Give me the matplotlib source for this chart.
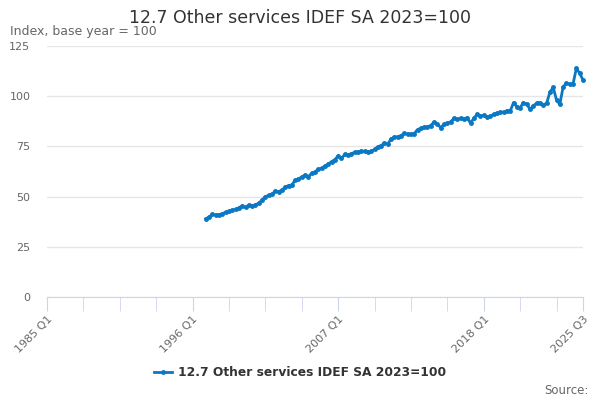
import matplotlib.pyplot as plt

# quarters 1985 Q1 .. 2025 Q3
quarters = [f"{y} Q{q}" for y in range(1985, 2026) for q in range(1, 5)][:163]
start = "1997 Q1"
values = [
    39.0, 39.8, 41.2, 40.8, 41.0, 41.5, 42.2, 42.6, 43.2, 43.6,
    44.4, 45.4, 44.6, 45.8, 45.3, 45.9, 46.7, 48.3, 50.0, 50.6,
    51.2, 52.8, 52.5, 53.2, 54.8, 55.5, 55.8, 58.2, 58.8, 59.8,
    60.8, 60.0, 61.6, 62.3, 63.6, 64.1, 65.2, 66.2, 67.4, 68.4,
    70.3, 69.1, 71.0, 70.6, 71.4, 72.0, 72.3, 72.6, 72.5, 72.4,
    72.6, 73.5, 74.9, 75.4, 76.6, 76.2, 78.8, 79.6, 79.8, 80.4,
    81.5, 81.2, 81.0, 81.4, 83.4, 84.0, 84.5, 84.8, 85.4, 87.2,
    86.0, 84.4, 86.0, 86.6, 87.2, 89.0, 88.4, 89.0, 88.6, 89.3,
    86.6, 89.0, 91.0, 90.2, 90.4, 89.8, 90.0, 91.0, 91.5, 92.0,
    92.0, 92.8, 92.6, 96.8, 94.8, 94.3, 96.8, 96.0, 93.5, 95.3,
    96.5, 96.8, 95.6, 96.5, 102.0, 104.4, 98.0, 96.0, 104.7, 106.4,
    106.0, 106.2, 113.9, 111.4, 108.1,
]
tick_labels = ["1985 Q1", "1996 Q1", "2007 Q1", "2018 Q1", "2025 Q3"]
series_name = "12.7 Other services IDEF SA 2023=100"

plt.rcParams['font.family'] = ['DejaVu Sans']

fig = plt.figure(figsize=(6, 4), dpi=100)
ax = fig.add_axes([47 / 600, 103 / 400, 536 / 600, 251 / 400])

i0 = quarters.index(start)
xs = list(range(i0, i0 + len(values)))
ax.plot(xs, values, color='#0a78c2', lw=2, marker='o', ms=2.5,
        label=series_name, clip_on=False)

ax.set_xlim(0, len(quarters) - 1)
ax.set_ylim(0, 125)
ax.set_yticks(range(0, 126, 25))
ax.yaxis.grid(True, color='#e6e6e6', lw=1)
ax.set_axisbelow(True)
ax.tick_params(axis='y', length=0, labelsize=8, labelcolor='#666666', pad=12)

major = [quarters.index(t) for t in tick_labels]
minor = [i for i in range(0, len(quarters), 11) if i not in major]
ax.set_xticks(major)
ax.set_xticklabels(tick_labels, rotation=45, ha='right', rotation_mode='anchor')
ax.set_xticks(minor, minor=True)
ax.tick_params(axis='x', which='both', length=10, color='#ccd6eb',
               labelsize=8, labelcolor='#666666', pad=2)

for s in ['top', 'right', 'left']:
    ax.spines[s].set_visible(False)
ax.spines['bottom'].set_color('#ccd6eb')

fig.text(0.5, 1 - 18 / 400, "12.7 Other services IDEF SA 2023=100",
         ha='center', va='center', fontsize=12.5, color='#333333')
fig.text(10 / 600, 1 - 32 / 400, "Index, base year = 100",
         ha='left', va='center', fontsize=9, color='#666666')
fig.text(589 / 600, 1 - 390 / 400, "Source:", ha='right', va='center',
         fontsize=8.5, color='#666666')

leg = fig.legend(loc='center', bbox_to_anchor=(0.5, 1 - 373 / 400), frameon=False,
                 prop={'weight': 'bold', 'size': 8.8}, handlelength=1.5,
                 handletextpad=0.5, labelcolor='#333333')

fig.savefig("out.png", dpi=100)
